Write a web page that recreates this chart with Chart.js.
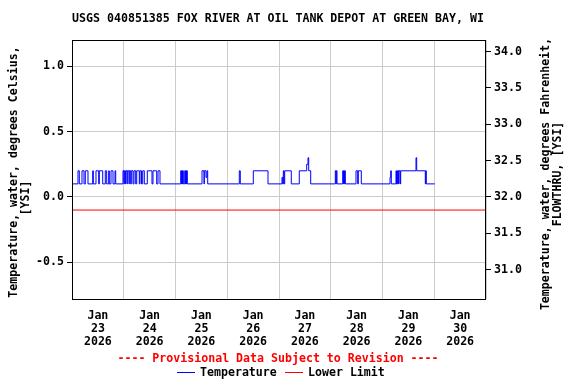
<!DOCTYPE html>
<html>
<head>
<meta charset="utf-8">
<script src="https://cdn.jsdelivr.net/npm/chart.js@4.4.1/dist/chart.umd.min.js"></script>
<style>
  body { margin: 0; background: #fff; }
  #wrap { width: 576px; height: 384px; }
</style>
</head>
<body>
<div id="wrap"><canvas id="chart" width="576" height="384"></canvas></div>
<script>
// hours since Jan 23 2026 00:00 where the reading changes, and the new reading (deg C)
const changeHours = [
  0, 2.78, 3.39, 4.64, 5.57, 6.17, 7.42, 9.60, 9.88, 11.13, 12.38, 12.66, 14.24,
  15.44, 16.09, 17.02, 17.30, 18.09, 19.01, 19.94, 20.27,
  23.65, 24.12, 24.26, 24.72, 24.90, 25.51, 25.65, 26.43, 26.57, 27.22, 27.50,
  28.29, 28.75, 29.54, 30.01, 31.21, 31.54, 32.23, 32.79, 33.53, 34.92, 37.10,
  37.57, 39.28, 39.88, 40.81,
  50.41, 50.78, 50.92, 51.24, 51.38, 51.62, 52.27, 52.64, 52.78, 53.10, 53.24, 53.47,
  60.29, 61.22, 61.36, 62.14, 62.61, 62.93,
  77.59, 78.05, 84.08, 90.90,
  97.39, 97.72, 98.00, 98.32, 98.64, 101.70, 105.41, 108.85, 109.45, 109.77, 110.70,
  122.11, 122.43, 122.57, 122.90, 125.54, 125.91, 126.05, 126.38, 126.52, 126.75,
  131.71, 132.50, 132.78, 134.17,
  147.48, 147.80, 148.08, 150.26, 150.49, 150.86, 151.10, 151.28, 151.51, 151.65,
  152.25, 152.44, 159.54, 159.86, 163.85, 164.03, 164.31, 168.21
];
const tempValues = [
  0.1, 0.2, 0.1, 0.2, 0.1, 0.2, 0.1, 0.2, 0.1, 0.2, 0.1, 0.2, 0.1,
  0.2, 0.1, 0.2, 0.1, 0.2, 0.1, 0.2, 0.1,
  0.2, 0.1, 0.2, 0.1, 0.2, 0.1, 0.2, 0.1, 0.2, 0.1, 0.2,
  0.1, 0.2, 0.1, 0.2, 0.1, 0.2, 0.1, 0.2, 0.1, 0.2, 0.1,
  0.2, 0.1, 0.2, 0.1,
  0.2, 0.1, 0.2, 0.1, 0.2, 0.1, 0.2, 0.1, 0.2, 0.1, 0.2, 0.1,
  0.2, 0.1, 0.2, 0.15, 0.2, 0.1,
  0.2, 0.1, 0.2, 0.1,
  0.15, 0.1, 0.2, 0.1, 0.2, 0.1, 0.2, 0.25, 0.3, 0.2, 0.1,
  0.2, 0.1, 0.2, 0.1, 0.2, 0.1, 0.2, 0.1, 0.2, 0.1,
  0.2, 0.1, 0.2, 0.1,
  0.15, 0.2, 0.1, 0.2, 0.1, 0.2, 0.1, 0.2, 0.1, 0.2,
  0.1, 0.2, 0.3, 0.2, 0.1, 0.2, 0.1, 0.1
];
const lowerLimit = -0.1;

const monthLabel = "Jan";
const dayLabels = ["23", "24", "25", "26", "27", "28", "29", "30"];
const yearLabel = "2026";
const celsiusTicks = [-0.5, 0.0, 0.5, 1.0];
const fahrenheitTicks = [31.0, 31.5, 32.0, 32.5, 33.0, 33.5, 34.0];

const titleText = "USGS 040851385 FOX RIVER AT OIL TANK DEPOT AT GREEN BAY, WI";
const leftTitle = ["Temperature, water, degrees Celsius,", "[YSI]"];
const rightTitle = ["Temperature, water, degrees Fahrenheit,", "FLOWTHRU, [YSI]"];
const provisional = "---- Provisional Data Subject to Revision ----";

const FONT = '"DejaVu Sans Mono", monospace';
const cMin = -0.78, cMax = 1.2;

Chart.defaults.font.family = FONT;
Chart.defaults.font.size = 11.6;
Chart.defaults.font.weight = "bold";
Chart.defaults.color = "#000";

const tempPoints = changeHours.map((h, i) => ({ x: h, y: tempValues[i] }));

const decor = {
  id: "decor",
  afterDraw(chart) {
    const ctx = chart.ctx;
    const a = chart.chartArea;
    ctx.save();
    ctx.strokeStyle = "#000";
    ctx.lineWidth = 1;
    ctx.strokeRect(a.left + 0.5, a.top + 0.5, a.right - a.left - 1, a.bottom - a.top);

    ctx.font = "bold 11.6px " + FONT;
    ctx.fillStyle = "#000";
    ctx.textAlign = "center";
    ctx.textBaseline = "middle";
    ctx.fillText(titleText, 278, 19);

    // axis titles, both read bottom to top; second line offset along the axis
    [[14, 172, leftTitle, -26], [546, 174, rightTitle, 0]].forEach(([x, y, lines, shift]) => {
      ctx.save();
      ctx.translate(x, y);
      ctx.rotate(-Math.PI / 2);
      lines.forEach((t, i) => ctx.fillText(t, i ? shift : 0, i * 12));
      ctx.restore();
    });

    ctx.fillStyle = "#ff0000";
    ctx.fillText(provisional, 278, 359);

    // legend
    ctx.textAlign = "left";
    ctx.fillStyle = "#000";
    ctx.strokeStyle = "#0000ff";
    ctx.beginPath(); ctx.moveTo(177, 372.5); ctx.lineTo(195, 372.5); ctx.stroke();
    ctx.fillText("Temperature", 200, 373);
    ctx.strokeStyle = "#ff0000";
    ctx.beginPath(); ctx.moveTo(285, 372.5); ctx.lineTo(303, 372.5); ctx.stroke();
    ctx.fillText("Lower Limit", 308, 373);
    ctx.restore();
  }
};

new Chart(document.getElementById("chart"), {
  type: "line",
  data: {
    datasets: [
      {
        label: "Temperature",
        data: tempPoints,
        borderColor: "#0000ff",
        borderWidth: 1,
        pointRadius: 0,
        stepped: true,
        yAxisID: "y"
      },
      {
        label: "Lower Limit",
        data: [{ x: 0, y: lowerLimit }, { x: 192, y: lowerLimit }],
        borderColor: "#ff0000",
        borderWidth: 1,
        pointRadius: 0,
        yAxisID: "y"
      }
    ]
  },
  options: {
    responsive: false,
    animation: false,
    layout: { padding: { top: 40, left: 0, right: 0, bottom: 0 } },
    plugins: { legend: { display: false }, title: { display: false }, tooltip: { enabled: false } },
    scales: {
      x: {
        type: "linear",
        min: 0,
        max: 192,
        afterBuildTicks: s => {
          const t = [];
          for (let h = 0; h <= 192; h += 12) t.push({ value: h });
          s.ticks = t;
        },
        afterFit: s => { s.height = 85; },
        border: { display: false },
        grid: {
          drawTicks: false,
          color: c => (c.tick && c.tick.value % 24 === 0 ? "#cccccc" : "rgba(0,0,0,0)")
        },
        ticks: {
          autoSkip: false,
          maxRotation: 0,
          padding: 10,
          font: { lineHeight: "13px" },
          callback: v => {
            if (v % 24 !== 12) return "";
            return [monthLabel, dayLabels[(v - 12) / 24], yearLabel];
          }
        }
      },
      y: {
        position: "left",
        min: cMin,
        max: cMax,
        afterBuildTicks: s => { s.ticks = celsiusTicks.map(v => ({ value: v })); },
        afterFit: s => { s.width = 72; },
        border: { display: false },
        grid: { color: "#cccccc", tickColor: "#000", tickLength: 5 },
        ticks: { padding: 3, callback: v => v.toFixed(1) }
      },
      y2: {
        position: "right",
        min: 32 + 1.8 * cMin,
        max: 32 + 1.8 * cMax,
        afterBuildTicks: s => { s.ticks = fahrenheitTicks.map(v => ({ value: v })); },
        afterFit: s => { s.width = 90; },
        border: { display: false },
        grid: { drawOnChartArea: false, tickColor: "#000", tickLength: 5 },
        ticks: { padding: 3, callback: v => v.toFixed(1) }
      }
    }
  },
  plugins: [decor]
});
</script>
</body>
</html>
